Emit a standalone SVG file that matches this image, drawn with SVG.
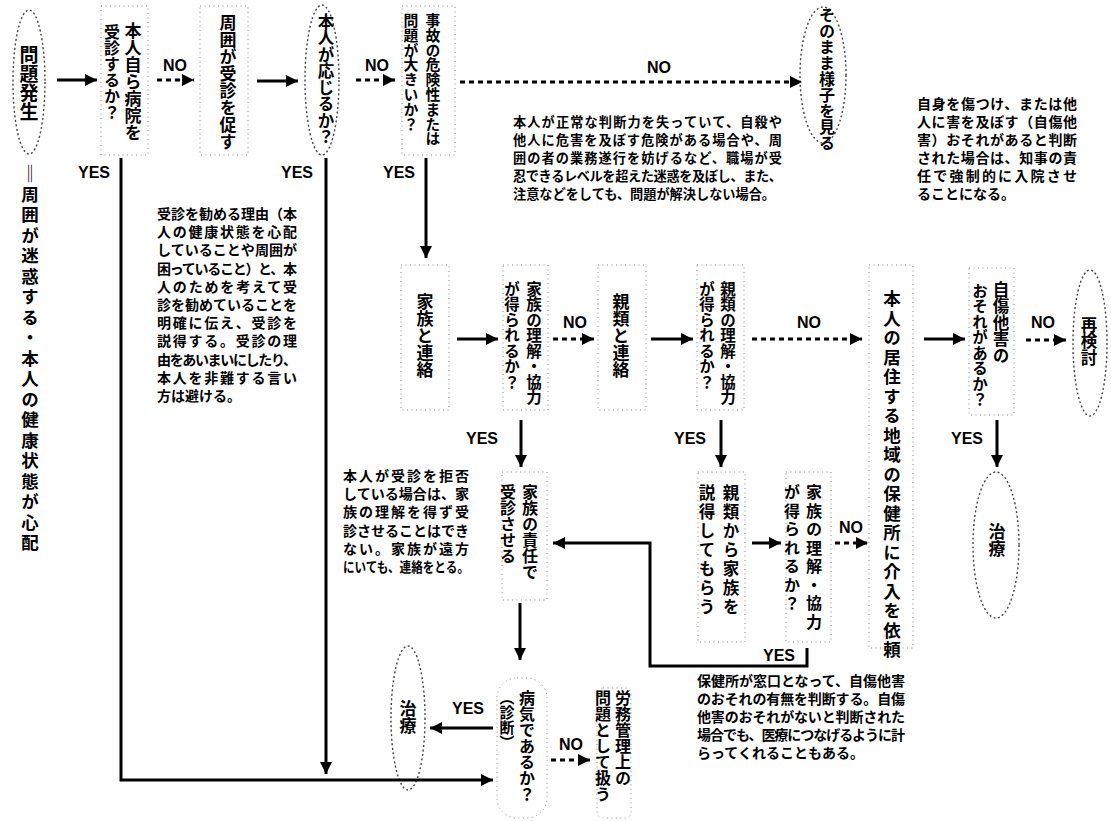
<svg xmlns="http://www.w3.org/2000/svg" width="1111" height="821" viewBox="0 0 1111 821">
<defs>
<style>
.v{font-family:"Noto Sans CJK JP","Noto Sans CJK SC",sans-serif;font-weight:bold;writing-mode:vertical-rl;fill:#000}
.t{font-family:"Noto Sans CJK JP","Noto Sans CJK SC",sans-serif;font-weight:bold;font-size:14px;fill:#000}
.t1{font-size:13.2px}
.l{font-family:"Liberation Sans",Arial,sans-serif;font-weight:bold;font-size:16px;fill:#000;text-anchor:middle}
.box{fill:none;stroke:#888;stroke-width:1;stroke-dasharray:1 3.5}
.ell{fill:none;stroke:#444;stroke-width:1.4;stroke-dasharray:2 2.5}
.s{fill:none;stroke:#000;stroke-width:3}
.d{fill:none;stroke:#000;stroke-width:3;stroke-dasharray:5 4}
</style>
<marker id="ah" viewBox="0 0 12 12" refX="12" refY="6" markerWidth="12" markerHeight="12" markerUnits="userSpaceOnUse" orient="auto"><path d="M0,0 L12,6 L0,12 z" fill="#000"/></marker>
</defs>
<rect width="1111" height="821" fill="#fff"/>

<g id="n1"><ellipse class="ell" cx="29" cy="82" rx="16" ry="72"/><text class="v" x="29" y="45" font-size="19">問題発生</text></g>
<g id="n1note"><text class="v" x="30" y="165" font-size="17.5" letter-spacing="3">‖周囲が迷惑する・本人の健康状態が心配</text></g>
<g id="n2"><rect class="box" x="101" y="6" width="47" height="149"/><text class="v" x="133" y="22" font-size="17">本人自ら病院を</text><text class="v" x="112" y="24" font-size="16">受診するか？</text></g>
<g id="n3"><rect class="box" x="200" y="6" width="48" height="149"/><text class="v" x="228" y="14" font-size="17">周囲が受診を促す</text></g>
<g id="n4"><ellipse class="ell" cx="322" cy="80" rx="17" ry="75"/><text class="v" x="326" y="13" font-size="16.5">本人が応じるか？</text></g>
<g id="n5"><rect class="box" x="402" y="6" width="53" height="149"/><text class="v" x="433" y="13" font-size="14.8">事故の危険性または</text><text class="v" x="411" y="13" font-size="14.8">問題が大きいか？</text></g>
<g id="n6"><ellipse class="ell" cx="823" cy="75" rx="23" ry="68"/><text class="v" x="827" y="7" font-size="16">そのまま様子を見る</text></g>

<g id="note1">
<text class="t t1" x="513" y="127" textLength="269" lengthAdjust="spacing">本人が正常な判断力を失っていて、自殺や</text>
<text class="t t1" x="513" y="145" textLength="269" lengthAdjust="spacing">他人に危害を及ぼす危険がある場合や、周</text>
<text class="t t1" x="513" y="163" textLength="269" lengthAdjust="spacing">囲の者の業務遂行を妨げるなど、職場が受</text>
<text class="t t1" x="513" y="181" textLength="269" lengthAdjust="spacing">忍できるレベルを超えた迷惑を及ぼし、また、</text>
<text class="t t1" x="513" y="199" textLength="262" lengthAdjust="spacing">注意などをしても、問題が解決しない場合。</text>
</g>
<g id="note2">
<text class="t" x="917" y="109" textLength="160" lengthAdjust="spacing">自身を傷つけ、または他</text>
<text class="t" x="917" y="127" textLength="160" lengthAdjust="spacing">人に害を及ぼす（自傷他</text>
<text class="t" x="917" y="145" textLength="160" lengthAdjust="spacing">害）おそれがあると判断</text>
<text class="t" x="917" y="163" textLength="160" lengthAdjust="spacing">された場合は、知事の責</text>
<text class="t" x="917" y="181" textLength="160" lengthAdjust="spacing">任で強制的に入院させ</text>
<text class="t" x="917" y="199">ることになる。</text>
</g>
<g id="note3">
<text class="t" x="157" y="219" textLength="140" lengthAdjust="spacing">受診を勧める理由（本</text>
<text class="t" x="157" y="237" textLength="140" lengthAdjust="spacing">人の健康状態を心配</text>
<text class="t" x="157" y="255" textLength="140" lengthAdjust="spacing">していることや周囲が</text>
<text class="t" x="157" y="274" textLength="140" lengthAdjust="spacing">困っていること）と、本</text>
<text class="t" x="157" y="292" textLength="140" lengthAdjust="spacing">人のためを考えて受</text>
<text class="t" x="157" y="310" textLength="140" lengthAdjust="spacing">診を勧めていることを</text>
<text class="t" x="157" y="328" textLength="140" lengthAdjust="spacing">明確に伝え、受診を</text>
<text class="t" x="157" y="346" textLength="140" lengthAdjust="spacing">説得する。受診の理</text>
<text class="t" x="157" y="365" textLength="140" lengthAdjust="spacing">由をあいまいにしたり、</text>
<text class="t" x="157" y="383" textLength="140" lengthAdjust="spacing">本人を非難する言い</text>
<text class="t" x="157" y="401">方は避ける。</text>
</g>

<g id="n7"><rect class="box" x="401" y="265" width="48" height="145"/><text class="v" x="425" y="293" font-size="17">家族と連絡</text></g>
<g id="n8"><rect class="box" x="503" y="265" width="45" height="145"/><text class="v" x="534" y="281" font-size="15.5">家族の理解・協力</text><text class="v" x="512" y="281" font-size="15.5">が得られるか？</text></g>
<g id="n9"><rect class="box" x="598" y="265" width="48" height="145"/><text class="v" x="621" y="293" font-size="17">親類と連絡</text></g>
<g id="n10"><rect class="box" x="697" y="265" width="47" height="145"/><text class="v" x="728" y="281" font-size="15.5">親類の理解・協力</text><text class="v" x="707" y="281" font-size="15.5">が得られるか？</text></g>
<g id="n11"><rect class="box" x="869" y="265" width="44" height="383"/><text class="v" x="892" y="290" font-size="17.5" letter-spacing="2">本人の居住する地域の保健所に介入を依頼</text></g>
<g id="n12"><rect class="box" x="969" y="268" width="45" height="147"/><text class="v" x="1001" y="281" font-size="16.5">自傷他害の</text><text class="v" x="980" y="283" font-size="15.5">おそれがあるか？</text></g>
<g id="n13"><ellipse class="ell" cx="1090" cy="343" rx="17" ry="73"/><text class="v" x="1089" y="316" font-size="16.5">再検討</text></g>
<g id="n14"><ellipse class="ell" cx="996" cy="545" rx="23" ry="73"/><text class="v" x="997" y="523" font-size="17">治療</text></g>

<g id="n15"><rect class="box" x="502" y="472" width="45" height="128"/><text class="v" x="530" y="484" font-size="16">家族の責任で</text><text class="v" x="508" y="484" font-size="16">受診させる</text></g>
<g id="n16"><rect class="box" x="698" y="472" width="47" height="170"/><text class="v" x="731" y="484" font-size="16.5" letter-spacing="2.5">親類から家族を</text><text class="v" x="707" y="484" font-size="16.5" letter-spacing="2.5">説得してもらう</text></g>
<g id="n17"><rect class="box" x="786" y="472" width="45" height="170"/><text class="v" x="814" y="484" font-size="16" letter-spacing="2.5">家族の理解・協力</text><text class="v" x="792" y="484" font-size="16" letter-spacing="2.5">が得られるか？</text></g>
<g id="note4">
<text class="t" x="343" y="481" textLength="126" lengthAdjust="spacing">本人が受診を拒否</text>
<text class="t" x="343" y="499" textLength="126" lengthAdjust="spacing">している場合は、家</text>
<text class="t" x="343" y="517" textLength="126" lengthAdjust="spacing">族の理解を得ず受</text>
<text class="t" x="343" y="536" textLength="126" lengthAdjust="spacing">診させることはでき</text>
<text class="t" x="343" y="554" textLength="126" lengthAdjust="spacing">ない。家族が遠方</text>
<text class="t" x="343" y="572" textLength="126" lengthAdjust="spacingAndGlyphs">にいても、連絡をとる。</text>
</g>
<g id="note5">
<text class="t" x="697" y="686" textLength="208" lengthAdjust="spacing">保健所が窓口となって、自傷他害</text>
<text class="t" x="697" y="704" textLength="208" lengthAdjust="spacing">のおそれの有無を判断する。自傷</text>
<text class="t" x="697" y="722" textLength="208" lengthAdjust="spacing">他害のおそれがないと判断された</text>
<text class="t" x="697" y="740" textLength="208" lengthAdjust="spacing">場合でも、医療につなげるように計</text>
<text class="t" x="697" y="758">らってくれることもある。</text>
</g>

<g id="n18"><rect class="box" x="497" y="678" width="50" height="140" rx="20"/><text class="v" x="527" y="690" font-size="16">病気であるか？</text><text class="v" x="507" y="690" font-size="15">（診断）</text></g>
<g id="n19"><ellipse class="ell" cx="408" cy="718" rx="17" ry="72"/><text class="v" x="408" y="700" font-size="17">治療</text></g>
<g id="n20"><rect class="box" x="597" y="688" width="34" height="130" rx="6"/><text class="v" x="623" y="690" font-size="16">労務管理上の</text><text class="v" x="603" y="690" font-size="16">問題として扱う</text></g>

<g id="connectors">
<line class="s" x1="57" y1="80" x2="97" y2="80" marker-end="url(#ah)"/>
<line class="d" x1="157" y1="80" x2="194" y2="80" marker-end="url(#ah)"/>
<line class="s" x1="257" y1="81" x2="298" y2="81" marker-end="url(#ah)"/>
<line class="d" x1="356" y1="80" x2="395" y2="80" marker-end="url(#ah)"/>
<line class="d" x1="460" y1="82" x2="802" y2="82" marker-end="url(#ah)"/>
<polyline class="s" points="121,158 121,780 493,780" marker-end="url(#ah)"/>
<line class="s" x1="326" y1="158" x2="326" y2="774" marker-end="url(#ah)"/>
<line class="s" x1="426" y1="158" x2="426" y2="258" marker-end="url(#ah)"/>
<line class="s" x1="457" y1="339" x2="498" y2="339" marker-end="url(#ah)"/>
<line class="d" x1="553" y1="339" x2="594" y2="339" marker-end="url(#ah)"/>
<line class="s" x1="651" y1="339" x2="693" y2="339" marker-end="url(#ah)"/>
<line class="d" x1="752" y1="339" x2="862" y2="339" marker-end="url(#ah)"/>
<line class="s" x1="924" y1="339" x2="965" y2="339" marker-end="url(#ah)"/>
<line class="d" x1="1026" y1="340" x2="1066" y2="340" marker-end="url(#ah)"/>
<line class="s" x1="997" y1="420" x2="997" y2="467" marker-end="url(#ah)"/>
<line class="s" x1="521" y1="420" x2="521" y2="467" marker-end="url(#ah)"/>
<line class="s" x1="721" y1="420" x2="721" y2="467" marker-end="url(#ah)"/>
<line class="s" x1="752" y1="543" x2="781" y2="543" marker-end="url(#ah)"/>
<line class="d" x1="835" y1="543" x2="868" y2="543" marker-end="url(#ah)"/>
<polyline class="s" points="807,648 807,666 650,666 650,543 553,543" marker-end="url(#ah)"/>
<line class="s" x1="520" y1="603" x2="520" y2="660" marker-end="url(#ah)"/>
<line class="s" x1="493" y1="728" x2="430" y2="728" marker-end="url(#ah)"/>
<line class="d" x1="551" y1="760" x2="590" y2="760" marker-end="url(#ah)"/>
<text class="l" x="175" y="71">NO</text>
<text class="l" x="377" y="71">NO</text>
<text class="l" x="659" y="73">NO</text>
<text class="l" x="94" y="178">YES</text>
<text class="l" x="297" y="178">YES</text>
<text class="l" x="399" y="178">YES</text>
<text class="l" x="575" y="328">NO</text>
<text class="l" x="809" y="328">NO</text>
<text class="l" x="1043" y="328">NO</text>
<text class="l" x="482" y="444">YES</text>
<text class="l" x="690" y="444">YES</text>
<text class="l" x="967" y="444">YES</text>
<text class="l" x="851" y="533">NO</text>
<text class="l" x="779" y="661">YES</text>
<text class="l" x="468" y="714">YES</text>
<text class="l" x="571" y="750">NO</text>
</g>
</svg>
